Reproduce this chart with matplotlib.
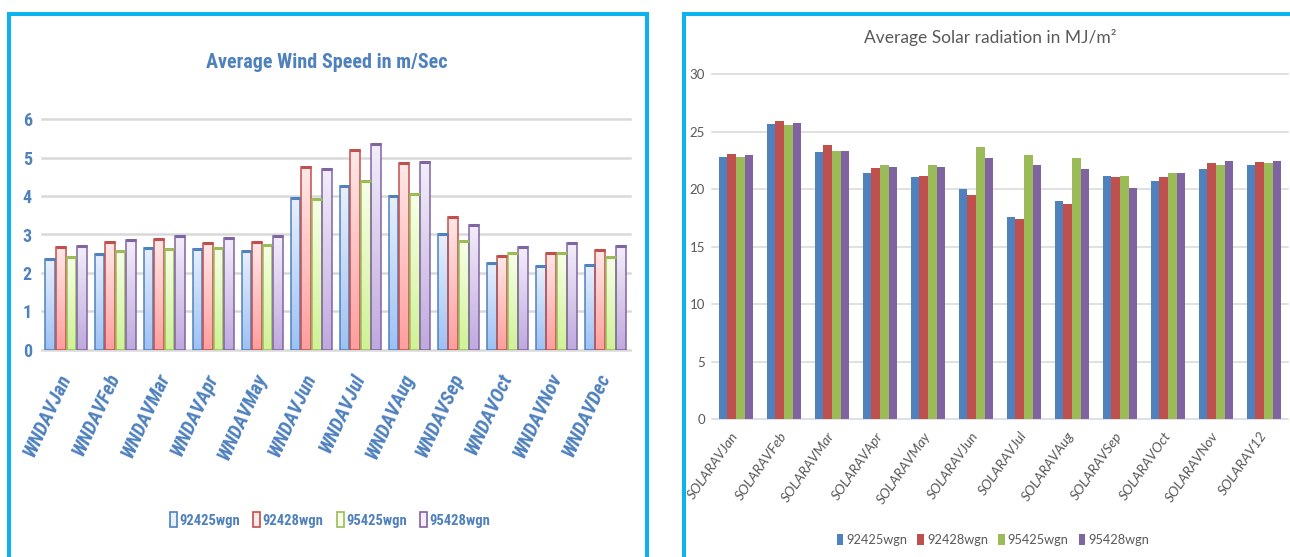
import numpy as np
import matplotlib
matplotlib.use("Agg")
import matplotlib.pyplot as plt
from matplotlib import font_manager
from matplotlib.colors import to_rgb
from matplotlib.patches import Rectangle, Patch

# ---------------- data ----------------
series = ["92425wgn", "92428wgn", "95425wgn", "95428wgn"]

wind_labels = ["WNDAVJan", "WNDAVFeb", "WNDAVMar", "WNDAVApr", "WNDAVMay", "WNDAVJun",
               "WNDAVJul", "WNDAVAug", "WNDAVSep", "WNDAVOct", "WNDAVNov", "WNDAVDec"]
wind_92425 = [2.35, 2.49, 2.66, 2.63, 2.56, 3.94, 4.25, 4.01, 3.00, 2.25, 2.18, 2.21]
wind_92428 = [2.67, 2.80, 2.88, 2.77, 2.80, 4.75, 5.20, 4.86, 3.46, 2.43, 2.53, 2.60]
wind_95425 = [2.41, 2.56, 2.63, 2.66, 2.73, 3.92, 4.40, 4.05, 2.83, 2.52, 2.53, 2.42]
wind_95428 = [2.70, 2.85, 2.95, 2.92, 2.95, 4.70, 5.35, 4.89, 3.26, 2.67, 2.77, 2.70]
wind_ticks = [0, 1, 2, 3, 4, 5, 6]

solar_labels = ["SOLARAVJan", "SOLARAVFeb", "SOLARAVMar", "SOLARAVApr", "SOLARAVMay",
                "SOLARAVJun", "SOLARAVJul", "SOLARAVAug", "SOLARAVSep", "SOLARAVOct",
                "SOLARAVNov", "SOLARAV12"]
solar_92425 = [22.85, 25.64, 23.26, 21.43, 21.11, 20.06, 17.62, 18.99, 21.20, 20.73, 21.75, 22.15]
solar_92428 = [23.08, 25.96, 23.81, 21.89, 21.17, 19.51, 17.39, 18.73, 21.05, 21.11, 22.30, 22.39]
solar_95425 = [22.85, 25.55, 23.32, 22.13, 22.07, 23.64, 22.94, 22.76, 21.20, 21.43, 22.07, 22.30]
solar_95428 = [22.94, 25.78, 23.32, 21.98, 21.98, 22.76, 22.13, 21.75, 20.15, 21.43, 22.47, 22.47]
solar_ticks = [0, 5, 10, 15, 20, 25, 30]

# ---------------- styling ----------------
W, H = 1290, 557
edge_cols = ["#4F81BD", "#C0504D", "#9BBB59", "#8064A2"]
# (top colour, bottom colour) of the glossy wind bars
grad_cols = [("#E8F0FC", "#9EC1F4"), ("#FFE8E8", "#FF9E9E"),
             ("#F7FFE8", "#CFF296"), ("#F3EEFA", "#BFA9DE")]
solid_cols = ["#4F81BD", "#C0504D", "#9BBB59", "#8064A2"]
wind_blue = "#4F81BD"
gray_txt = "#595959"
grid_col = "#D9D9D9"
frame_col = "#0DB3EE"

available = {f.name for f in font_manager.fontManager.ttflist}


def pick(names):
    for n in names:
        if n in available:
            return [n, "DejaVu Sans"]
    return ["DejaVu Sans"]


narrow = pick(["Liberation Sans Narrow", "Roboto Condensed", "DejaVu Sans"])
soft = pick(["Lato", "Open Sans", "DejaVu Sans"])


def fx(x):
    return x / W


def fy(y):
    return 1 - y / H


def vertical_gradient(top, bottom, n=128):
    t = np.linspace(0, 1, n)[:, None]
    c_top, c_bot = np.array(to_rgb(top)), np.array(to_rgb(bottom))
    img = c_top[None, :] * (1 - t) + c_bot[None, :] * t   # row 0 = top
    return img[:, None, :]


fig = plt.figure(figsize=(W / 100, H / 100), dpi=100)
fig.patch.set_facecolor("white")

# panel frames
fig.add_artist(Rectangle((fx(9.3), fy(620)), (646.5 - 9.3) / W, (620 - 14.3) / H,
                         transform=fig.transFigure, fill=False, ec=frame_col, lw=2.9))
fig.add_artist(Rectangle((fx(683.7), fy(620)), (1400 - 683.7) / W, (620 - 14.3) / H,
                         transform=fig.transFigure, fill=False, ec=frame_col, lw=2.9))

x = np.arange(12)

# ---------------- wind speed chart ----------------
axL = fig.add_axes([fx(41.7), fy(349.7), 588.3 / W, 230.4 / H])
wind_series = [wind_92425, wind_92428, wind_95425, wind_95428]
offL = (np.arange(4) - 1.5) * 0.215
bwL = 0.2
for i, vals in enumerate(wind_series):
    img = vertical_gradient(*grad_cols[i])
    bars = axL.bar(x + offL[i], vals, width=bwL, facecolor="none",
                   edgecolor=edge_cols[i], linewidth=1.1, zorder=3)
    for rect in bars:
        bx, by = rect.get_x(), rect.get_y()
        bw, bh = rect.get_width(), rect.get_height()
        im = axL.imshow(img, extent=[bx, bx + bw, by, by + bh], origin="upper",
                        aspect="auto", zorder=2, interpolation="bilinear")
        im.set_clip_path(rect)
    axL.hlines(vals, x + offL[i] - bwL / 2, x + offL[i] + bwL / 2,
               colors=edge_cols[i], lw=2.2, zorder=4)

axL.set_xlim(-0.5, 11.5)
axL.set_ylim(0, 6)
for t in wind_ticks:
    axL.axhline(t, color=grid_col, lw=1.8, zorder=1, clip_on=False)
for s in axL.spines.values():
    s.set_visible(False)
axL.set_yticks(wind_ticks)
axL.set_yticklabels([str(t) for t in wind_ticks], fontsize=13, fontweight="bold",
                    color=wind_blue, family=narrow)
axL.set_xticks(x)
axL.set_xticklabels(wind_labels, rotation=65, ha="right", va="center",
                    rotation_mode="anchor", fontsize=14.5, fontweight="bold",
                    fontstyle="italic", color=wind_blue, family=narrow)
axL.tick_params(axis="y", length=0, pad=7)
axL.tick_params(axis="x", length=0, pad=18)

fig.text(fx(327), fy(63), "Average Wind Speed in m/Sec", ha="center", va="center",
         fontsize=14.5, fontweight="bold", color=wind_blue, family=narrow)

handlesL = [Patch(facecolor=grad_cols[i][0], edgecolor=edge_cols[i], lw=1.2)
            for i in range(4)]
legL = fig.legend(handlesL, series, loc="center", bbox_to_anchor=(fx(330), fy(520)),
                  ncol=4, frameon=False, handlelength=0.5, handleheight=1.2,
                  handletextpad=0.15, columnspacing=0.9,
                  prop={"family": narrow, "weight": "bold", "size": 10.5})
for t in legL.get_texts():
    t.set_color(wind_blue)

# ---------------- solar radiation chart ----------------
axR = fig.add_axes([fx(712), fy(419.3), 576 / W, 345 / H])
solar_series = [solar_92425, solar_92428, solar_95425, solar_95428]
offR = (np.arange(4) - 1.5) * 0.182
for i, vals in enumerate(solar_series):
    axR.bar(x + offR[i], vals, width=0.182, color=solid_cols[i], linewidth=0, zorder=3)

axR.set_xlim(-0.5, 11.5)
axR.set_ylim(0, 30)
for t in solar_ticks:
    axR.axhline(t, color=grid_col, lw=1.1, zorder=1, clip_on=False)
for s in axR.spines.values():
    s.set_visible(False)
axR.set_yticks(solar_ticks)
axR.set_yticklabels([str(t) for t in solar_ticks], fontsize=9.5, color=gray_txt,
                    family=soft)
axR.set_xticks(x)
axR.set_xticklabels(solar_labels, rotation=55, ha="right", va="center",
                    rotation_mode="anchor", fontsize=10, fontstyle="italic",
                    color=gray_txt, family=soft)
axR.tick_params(axis="y", length=0, pad=5)
axR.tick_params(axis="x", length=0, pad=10)

fig.text(fx(990), fy(37), "Average Solar radiation in MJ/m²", ha="center", va="center",
         fontsize=12.5, color=gray_txt, family=soft)

handlesR = [Patch(facecolor=solid_cols[i], edgecolor="none") for i in range(4)]
legR = fig.legend(handlesR, series, loc="center", bbox_to_anchor=(fx(993), fy(540)),
                  ncol=4, frameon=False, handlelength=0.5, handleheight=0.9,
                  handletextpad=0.25, columnspacing=0.8,
                  prop={"family": soft, "size": 9.2})
for t in legR.get_texts():
    t.set_color(gray_txt)

fig.savefig("out.png", dpi=100)
